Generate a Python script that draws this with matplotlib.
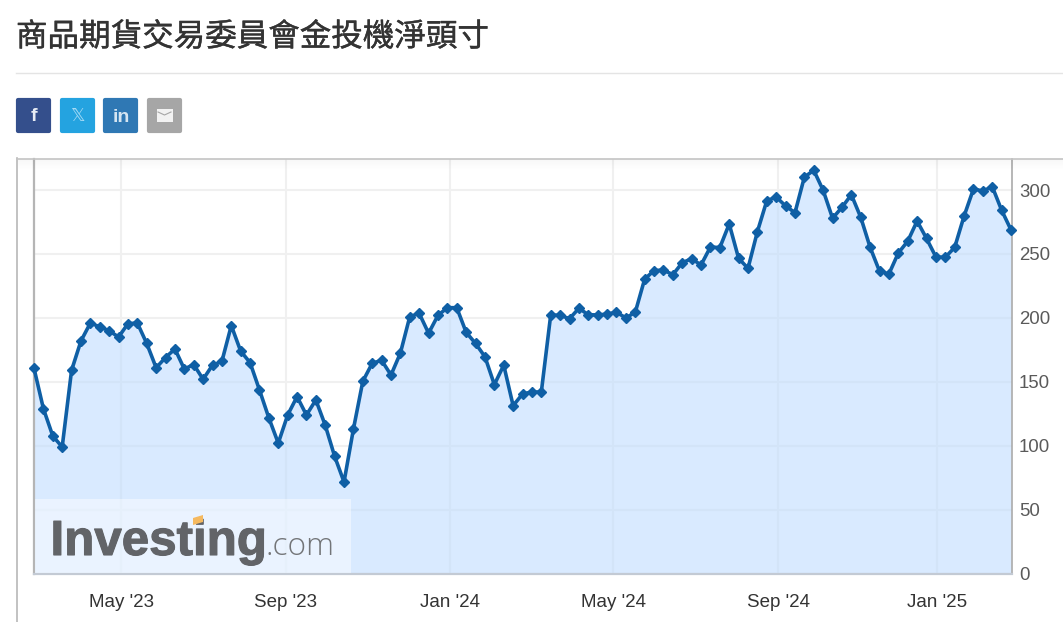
import numpy as np
import matplotlib
matplotlib.use('Agg')
import matplotlib.pyplot as plt
import matplotlib.patheffects as pe
from matplotlib.patches import FancyBboxPatch, Rectangle, Polygon

plt.rcParams['font.family'] = ['Liberation Sans', 'DejaVu Sans']

title = '商品期貨交易委員會金投機淨頭寸'

# net positions, one value per weekly report
net_position = [
    160.6, 129, 107.6, 99, 159, 182, 196, 193, 190, 185,
    195.5, 196, 180, 161, 169, 175.7, 160, 163.5, 152, 163,
    166, 194, 174, 165, 143.6, 121.7, 102, 124, 138.4, 124,
    135.8, 116, 91.7, 71.6, 113, 150.4, 164.5, 166.8, 155.3, 172.5,
    201, 203.6, 188, 202, 208, 208, 188.7, 180, 169.6, 147.8,
    163, 131.3, 140.5, 142, 142, 202.3, 202, 199.4, 207.5, 202.5,
    202.3, 203, 204.4, 200, 204.4, 230.4, 237, 237.5, 233.8, 243.2,
    246.3, 241.4, 255.5, 255, 273.5, 246.6, 238.8, 267.5, 291.7, 294.6,
    287.6, 282.3, 310.2, 315.5, 299.8, 278, 286.5, 296.4, 278.7, 255.2,
    236.5, 234.4, 250.8, 260, 275.8, 262.2, 247.7, 247.4, 255.2, 279.7,
    300.9, 299.3, 302.7, 284.2, 268.8,
]
y_ticks = [0, 50, 100, 150, 200, 250, 300]
x_labels = ["May '23", "Sep '23", "Jan '24", "May '24", "Sep '24", "Jan '25"]
# the axis is ordinal (evenly spaced reports), so months sit at fractional indexes
x_ticks = [9.3, 26.8, 44.3, 61.65, 79.2, 96.1]

W, H = 1063, 622
fig = plt.figure(figsize=(W / 100, H / 100), dpi=100)

# plot area, pixel box 34..1012 x 159..573.5
ax = fig.add_axes([34 / W, 1 - 573.5 / H, 978 / W, 414.5 / H])
x = np.arange(len(net_position))
ax.set_xlim(0, x[-1] + 0.1)
ax.set_ylim(0, 414.5 / 1.278)

ax.grid(True, color='#f0f0f0', linewidth=1.5, zorder=0)
ax.set_axisbelow(True)
ax.fill_between(x, net_position, 0, color='#c0dcff', alpha=0.6, linewidth=0, zorder=1)
ax.plot(x, net_position, color='#0f5fa5', linewidth=2.6, marker='D', markersize=5,
        clip_on=False, zorder=3)

ax.yaxis.tick_right()
ax.set_yticks(y_ticks)
ax.set_xticks(x_ticks)
ax.set_xticklabels(x_labels)
ax.tick_params(axis='y', length=0, labelsize=13.4, labelcolor='#5a5a5a', pad=5)
ax.tick_params(axis='x', length=0, labelsize=13.5, labelcolor='#333333', pad=15)
ax.spines['top'].set_visible(False)
ax.spines['left'].set_color('#b5b5b5')
ax.spines['left'].set_linewidth(1.6)
ax.spines['right'].set_color('#aaaaaa')
ax.spines['right'].set_linewidth(1.2)
ax.spines['bottom'].set_color('#c3cad4')
ax.spines['bottom'].set_linewidth(1.6)

# page furniture, drawn in pixel coordinates on a see-through overlay
ov = fig.add_axes([0, 0, 1, 1], facecolor='none')
ov.set_xlim(0, W)
ov.set_ylim(H, 0)
ov.axis('off')

ov.text(16, 37, title, fontsize=22.7, color='#333333', va='center', ha='left',
        family=['Noto Sans CJK TC', 'DejaVu Sans'],
        path_effects=[pe.withStroke(linewidth=0.3, foreground='#333333')])
ov.plot([16, W], [73, 73], color='#e4e4e4', linewidth=1)

# share buttons
buttons = [(16, '#344f8c'), (60, '#24a3e0'), (103, '#2f78b4'), (147, '#a6a6a6')]
for left, colour in buttons:
    ov.add_patch(FancyBboxPatch((left + 2, 100), 31, 31, boxstyle='round,pad=0,rounding_size=0',
                                mutation_aspect=1, facecolor=colour, edgecolor=colour,
                                linewidth=3, joinstyle='round'))
ov.text(33.5, 116.5, 'f', color='#e8edf5', fontsize=14, fontweight='bold', ha='center', va='center')
ov.text(77, 116, '𝕏', color='#a5daf5', fontsize=13, ha='center', va='center', family='DejaVu Sans')
ov.text(121, 117, 'in', color='#d5e5f2', fontsize=14, fontweight='bold', ha='center', va='center')
ov.add_patch(Rectangle((156.5, 109), 16, 13, facecolor='#f2f2f2', edgecolor='none'))
ov.plot([158, 164.5, 171], [112, 115, 112], color='#a6a6a6', linewidth=0.8)

# frame round the chart widget, with the soft shadow under its top edge
ov.plot([16.5, 16.5], [158, H], color='#b8b8b8', linewidth=1.2)
ov.plot([16.5, W], [158.5, 158.5], color='#c4c4c4', linewidth=1.2)
for i in range(10):
    ov.add_patch(Rectangle((17, 159 + i), W - 17, 1, facecolor='#000000',
                           alpha=0.03 * (1 - i / 10), edgecolor='none'))

# watermark
ov.add_patch(Rectangle((35, 499), 316, 74, facecolor='white', alpha=0.45, edgecolor='none'))
ov.text(50.5, 555, 'Investing', fontsize=35.5, fontweight='bold', color='#626468',
        ha='left', va='baseline',
        path_effects=[pe.withStroke(linewidth=0.8, foreground='#626468')])
ov.text(265, 555, '.com', fontsize=22.8, color='#737578', ha='left', va='baseline',
        family='Open Sans', fontweight='light')
ov.add_patch(Polygon([(193, 518), (203, 515), (203, 522), (193, 525)], facecolor='#f5b95f',
                     edgecolor='none', zorder=5))

plt.savefig('out.png', dpi=100)
